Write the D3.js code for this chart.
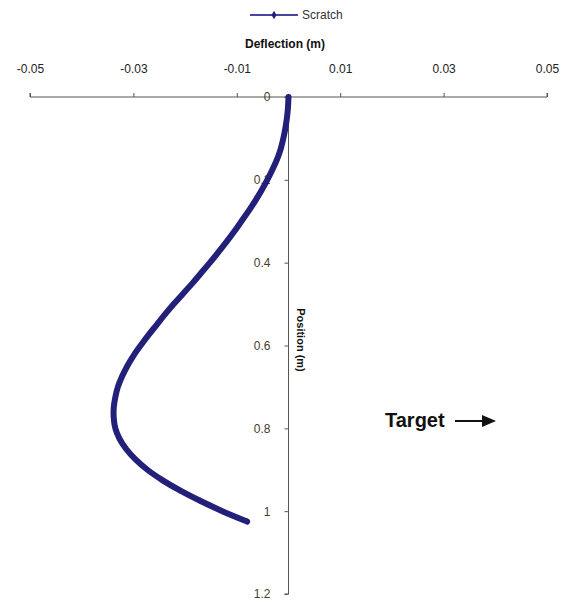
<!DOCTYPE html>
<html><head><meta charset="utf-8">
<script src="https://cdn.jsdelivr.net/npm/d3@7"></script>
<style>body{margin:0;background:#fff;font-family:"Liberation Sans",Arial,sans-serif;}</style>
</head><body><svg id="c" width="569" height="602"></svg>
<script>
const position = [0,0.025,0.05,0.075,0.1,0.125,0.15,0.175,0.2,0.225,0.25,0.275,0.3,0.325,0.35,0.375,0.4,0.425,0.45,0.475,0.5,0.525,0.55,0.575,0.6,0.625,0.65,0.675,0.7,0.725,0.75,0.775,0.8,0.825,0.85,0.875,0.9,0.925,0.95,0.975,1.0,1.025];
const deflection = [0,-0.0001,-0.0003,-0.0006,-0.0010,-0.0015,-0.0022,-0.0031,-0.0041,-0.0052,-0.0064,-0.0077,-0.0091,-0.0105,-0.0120,-0.0136,-0.0152,-0.0169,-0.0186,-0.0204,-0.0222,-0.0239,-0.0255,-0.0271,-0.0286,-0.0300,-0.0312,-0.0322,-0.0330,-0.0335,-0.0338,-0.0338,-0.0335,-0.0327,-0.0314,-0.0296,-0.0273,-0.0244,-0.0210,-0.0171,-0.0128,-0.0080];
const xTicks = [-0.05,-0.03,-0.01,0.01,0.03,0.05];
const xTickLabels = ["-0.05","-0.03","-0.01","0.01","0.03","0.05"];
const yTicks = [0,0.2,0.4,0.6,0.8,1,1.2];
const yTickLabels = ["0","0.2","0.4","0.6","0.8","1","1.2"];
const seriesName = "Scratch";

const svg = d3.select("#c");
const x = d3.scaleLinear().domain([-0.05,0.05]).range([30,547]);
const y = d3.scaleLinear().domain([0,1.2]).range([97,594]);
const navy = "#232079";
const font = "Liberation Sans, Arial, sans-serif";

// x axis
const xa = svg.append("g").attr("transform",`translate(0,${y(0)})`)
  .call(d3.axisTop(x).tickValues(xTicks).tickSize(4).tickPadding(20).tickFormat((d,i)=>xTickLabels[i]));
xa.select(".domain").attr("stroke","#555").attr("d",`M${x(-0.05)},-4V0H${x(0.05)}V-4`);
xa.selectAll(".tick line").attr("stroke","#555");
xa.selectAll("text").attr("fill","#222").attr("font-size","12px").attr("font-family",font);

// y axis
const ya = svg.append("g").attr("transform",`translate(${x(0)},0)`)
  .call(d3.axisLeft(y).tickValues(yTicks).tickSize(4).tickPadding(14).tickFormat((d,i)=>yTickLabels[i]));
ya.select(".domain").attr("stroke","#555").attr("d",`M-4,${y(0)}H0V${y(1.2)}H-4`);
ya.selectAll(".tick line").attr("stroke","#555");
ya.selectAll("text").attr("fill","#4a3a28").attr("font-size","12px").attr("font-family",font);

// titles
svg.append("text").attr("x",285).attr("y",48).attr("text-anchor","middle")
  .attr("font-size","12px").attr("font-weight","bold").attr("fill","#111").attr("font-family",font).text("Deflection (m)");
svg.append("text").attr("transform","translate(297,340) rotate(90)").attr("text-anchor","middle")
  .attr("font-size","11px").attr("font-weight","bold").attr("fill","#111").attr("font-family",font).text("Position (m)");

// series
const pts = position.map((p,i)=>[deflection[i],p]);
const line = d3.line().x(d=>x(d[0])).y(d=>y(d[1])).curve(d3.curveCatmullRom);
svg.append("path").datum(pts).attr("d",line).attr("fill","none").attr("stroke",navy).attr("stroke-width",6).attr("stroke-linecap","round");
svg.append("g").selectAll("path").data(pts).join("path")
  .attr("transform",d=>`translate(${x(d[0])},${y(d[1])})`)
  .attr("d",d3.symbol(d3.symbolDiamond,14)).attr("fill",navy);

// legend
svg.append("line").attr("x1",250).attr("x2",298).attr("y1",15).attr("y2",15).attr("stroke","#4a46a0").attr("stroke-width",2);
svg.append("path").attr("transform","translate(274,15)").attr("d",d3.symbol(d3.symbolDiamond,22)).attr("fill",navy);
svg.append("text").attr("x",302).attr("y",19).attr("font-size","12px").attr("fill","#333").attr("font-family",font).text(seriesName);

// Target annotation
svg.append("text").attr("x",385).attr("y",427).attr("font-size","20px").attr("font-weight","bold").attr("fill","#111").attr("font-family",font).text("Target");
svg.append("line").attr("x1",455).attr("x2",484).attr("y1",421).attr("y2",421).attr("stroke","#111").attr("stroke-width",2);
svg.append("path").attr("d","M482,415L496,421L482,427Z").attr("fill","#111");
</script></body></html>
